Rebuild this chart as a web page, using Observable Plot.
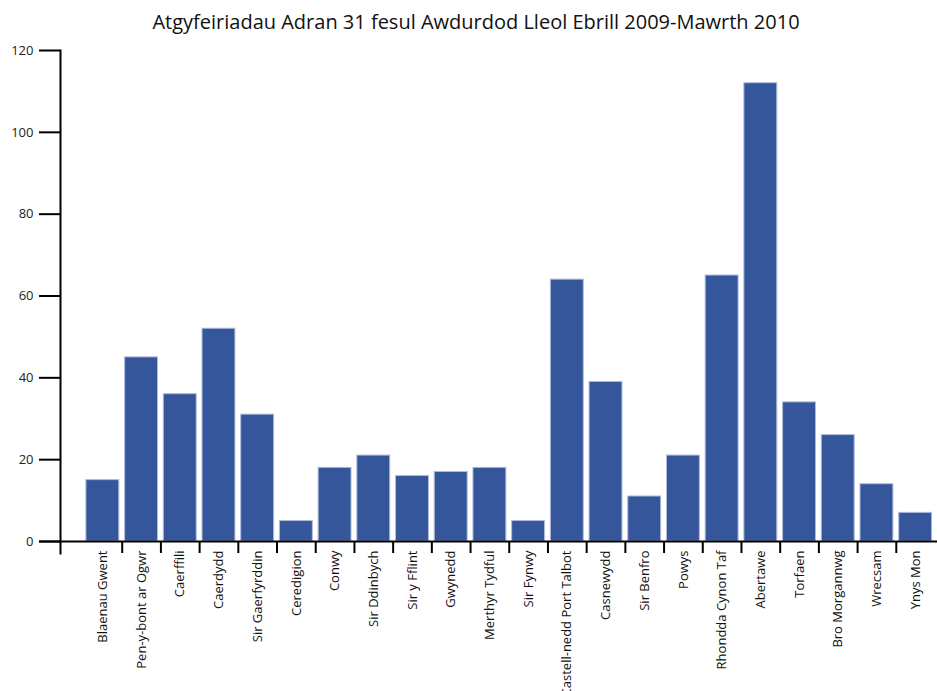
<!DOCTYPE html>
<html><head><meta charset="utf-8">
<script src="https://cdn.jsdelivr.net/npm/d3@7"></script>
<script src="https://cdn.jsdelivr.net/npm/@observablehq/plot@0.6"></script>
<style>
body{margin:0;background:#fff;font-family:"Open Sans",sans-serif;}
#wrap{position:relative;width:937px;height:691px;}
#title{position:absolute;top:8px;left:0;width:952px;text-align:center;font-size:20px;color:#111;}
</style></head>
<body><div id="wrap"><div id="title"></div></div>
<script>
const title = "Atgyfeiriadau Adran 31 fesul Awdurdod Lleol Ebrill 2009-Mawrth 2010";
const categories = ["Blaenau Gwent","Pen-y-bont ar Ogwr","Caerffili","Caerdydd","Sir Gaerfyrddin","Ceredigion","Conwy","Sir Ddinbych","Sir y Fflint","Gwynedd","Merthyr Tydful","Sir Fynwy","Castell-nedd Port Talbot","Casnewydd","Sir Benfro","Powys","Rhondda Cynon Taf","Abertawe","Torfaen","Bro Morgannwg","Wrecsam","Ynys Mon"];
const values = [15,45,36,52,31,5,18,21,16,17,18,5,64,39,11,21,65,112,34,26,14,7];
const yTicks = [0,20,40,60,80,100,120];

const data = categories.map((c,i)=>({cat:c, v:values[i]}));
document.getElementById("title").textContent = title;

const x0 = 83, x1 = 934.5;
const bw = (x1 - x0) / categories.length;

const chart = Plot.plot({
  width: 937, height: 691,
  marginTop: 50, marginBottom: 150, marginLeft: 60, marginRight: 2,
  style: {fontFamily: "'Open Sans', sans-serif", background: "transparent"},
  x: {domain: categories, range: [x0, x1], paddingInner: 0.15, paddingOuter: 0.075, round: false, axis: null, label: null},
  y: {domain: [0,120], axis: null, label: null},
  marks: [
    Plot.barY(data, {x:"cat", y:"v", fill:"#35569b", stroke:"#aebbdb", strokeWidth:1}),
    Plot.axisY({ticks: yTicks, tickSize: 21, tickPadding: 6, strokeWidth: 2, stroke:"#000", fontSize: 13, fill:"#222", label: null}),
    Plot.frame({anchor:"left", stroke:"#000", strokeWidth:2, insetBottom:-12}),
    Plot.ruleY([0], {stroke:"#000", strokeWidth:2, insetLeft:-21, insetRight:-2}),
    Plot.axisX({ticks: categories.slice(1), tickSize: 12, text: null, dx: -bw/2, strokeWidth: 2, stroke:"#000", label: null}),
    Plot.axisX({ticks: categories, tickSize: 0, tickPadding: 9, tickRotate: -90, fontSize: 13, fill:"#111", label: null})
  ]
});
document.getElementById("wrap").appendChild(chart);
</script></body></html>
